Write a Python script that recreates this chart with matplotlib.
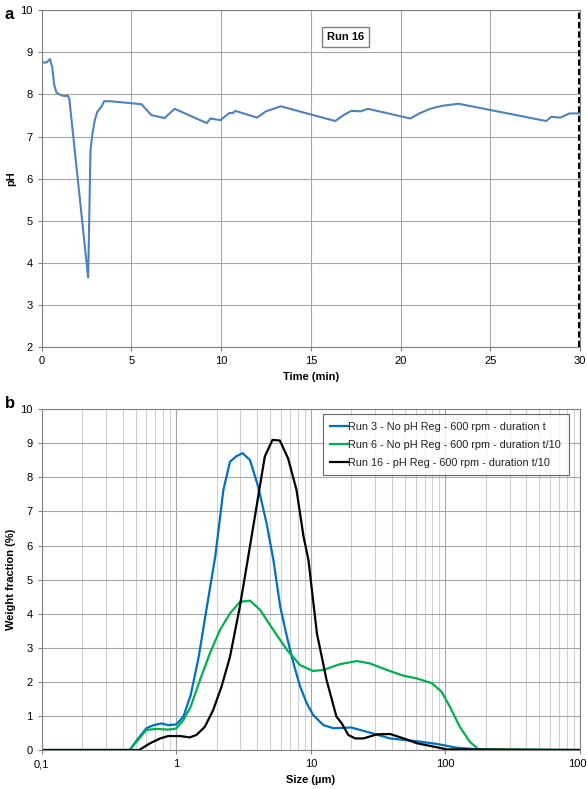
import matplotlib.pyplot as plt
import numpy as np

plt.rcParams['font.family'] = ['Liberation Sans', 'DejaVu Sans']

# panel a: pH vs time, Run 16
time_min = [0, 0.28, 0.46, 0.59, 0.70, 0.83, 1.11, 1.30, 1.44, 1.54, 2.59, 2.72, 2.83,
            2.96, 3.09, 3.24, 3.37, 3.48, 3.80, 5.56, 6.11, 6.85, 7.41, 9.20, 9.41, 9.96,
            10.46, 10.65, 10.8, 12.0, 12.5, 13.33, 14.35, 16.36, 16.82, 17.25, 17.79,
            18.18, 20.54, 21.1, 21.65, 22.3, 23.23, 28.12, 28.4, 28.9, 29.42, 29.93]
ph = [8.76, 8.76, 8.84, 8.65, 8.22, 8.04, 7.98, 7.96, 7.98, 7.90, 3.65, 6.67, 7.07,
      7.39, 7.58, 7.66, 7.74, 7.84, 7.84, 7.77, 7.51, 7.44, 7.66, 7.32, 7.43, 7.39,
      7.56, 7.56, 7.61, 7.45, 7.60, 7.72, 7.60, 7.37, 7.51, 7.61, 7.60,
      7.66, 7.43, 7.56, 7.66, 7.73, 7.78, 7.37, 7.47, 7.45, 7.55, 7.55]

# panel b: size distributions
size_run3 = [0.1, 0.45, 0.51, 0.60, 0.68, 0.78, 0.87, 1.0, 1.13, 1.28, 1.47, 1.69, 1.95,
             2.24, 2.51, 2.8, 3.11, 3.53, 4.06, 4.69, 5.27, 5.92, 6.64, 7.44, 8.33, 9.33,
             10.4, 12.4, 14.7, 20, 27.5, 38.8, 61, 86, 121, 171, 240, 1000]
wf_run3 = [0, 0, 0.29, 0.64, 0.73, 0.78, 0.73, 0.75, 0.98, 1.61, 2.74, 4.21, 5.68,
           7.63, 8.46, 8.62, 8.71, 8.51, 7.73, 6.65, 5.58, 4.21, 3.33, 2.54, 1.86, 1.37,
           1.03, 0.73, 0.64, 0.66, 0.51, 0.34, 0.26, 0.18, 0.07, 0.02, 0, 0]

size_run6 = [0.1, 0.45, 0.60, 0.71, 0.87, 1.0, 1.13, 1.28, 1.50, 1.78, 2.11, 2.51, 2.98,
             3.54, 4.2, 5.27, 6.64, 8.33, 10.4, 12.4, 16.5, 22, 27.5, 36.7, 48.8, 61.3,
             79.4, 93.7, 108, 128, 152, 176, 1000]
wf_run6 = [0, 0, 0.59, 0.62, 0.60, 0.63, 0.88, 1.27, 2.05, 2.84, 3.52, 4.01, 4.35,
           4.38, 4.11, 3.52, 2.94, 2.49, 2.32, 2.35, 2.52, 2.61, 2.54, 2.35, 2.18, 2.10,
           1.96, 1.71, 1.27, 0.68, 0.24, 0.02, 0]

size_run16 = [0.1, 0.53, 0.64, 0.76, 0.87, 1.07, 1.26, 1.41, 1.63, 1.88, 2.17, 2.51, 2.97,
              3.43, 3.95, 4.55, 5.19, 5.89, 6.77, 7.83, 8.83, 9.6, 11.1, 13.1, 15.5,
              17, 19, 21.4, 24.6, 31, 38.9, 48.9, 61.3, 81.8, 102, 1000]
wf_run16 = [0, 0, 0.20, 0.34, 0.41, 0.41, 0.37, 0.44, 0.68, 1.17, 1.86, 2.74, 4.21,
            5.68, 7.14, 8.61, 9.10, 9.08, 8.56, 7.63, 6.26, 5.58, 3.42, 2.05, 0.98,
            0.78, 0.44, 0.34, 0.34, 0.46, 0.47, 0.34, 0.20, 0.10, 0.02, 0]

labels = ['Run 3 - No pH Reg - 600 rpm - duration t',
          'Run 6 - No pH Reg - 600 rpm - duration t/10',
          'Run 16 - pH Reg - 600 rpm - duration t/10']

fig = plt.figure(figsize=(5.87, 7.89), dpi=100)
ax1 = fig.add_axes([0.071, 0.560, 0.917, 0.427])
ax2 = fig.add_axes([0.071, 0.0494, 0.917, 0.432])

# --- panel a ---
ax1.plot(time_min, ph, color='#4F81BD', lw=1.5)
ax1.axvline(29.95, color='black', ls='--', lw=1.5, dashes=(3, 1.5))
ax1.set_xlim(0, 30)
ax1.set_ylim(2, 10)
ax1.set_xticks(range(0, 31, 5))
ax1.set_yticks(range(2, 11))
ax1.grid(True, color='#a6a6a6', lw=0.8)
ax1.set_axisbelow(True)
ax1.set_xlabel('Time (min)', fontsize=8, fontweight='bold', labelpad=4)
ax1.set_ylabel('pH', fontsize=8, fontweight='bold')
ax1.yaxis.set_label_coords(-0.048, 0.5)
ax1.text(0.565, 0.92, 'Run 16', transform=ax1.transAxes, fontsize=8, fontweight='bold',
         ha='center', va='center',
         bbox=dict(boxstyle='square,pad=0.45', fc='white', ec='#7f7f7f', lw=1))

# --- panel b ---
ax2.plot(size_run3, wf_run3, color='#0070C0', lw=1.6, label=labels[0])
ax2.plot(size_run6, wf_run6, color='#00B050', lw=1.6, label=labels[1])
ax2.plot(size_run16, wf_run16, color='black', lw=1.6, label=labels[2])
ax2.set_xscale('log')
ax2.set_xlim(0.1, 1000)
ax2.set_ylim(0, 10)
ax2.set_yticks(range(0, 11))
ax2.set_xticks([0.1, 1, 10, 100, 1000])
ax2.set_xticklabels(['0,1', '1', '10', '100', '1000'])
ax2.grid(True, which='major', color='#a6a6a6', lw=0.8)
ax2.grid(True, which='minor', axis='x', color='#d0d0d0', lw=0.8)
ax2.set_axisbelow(True)
ax2.set_xlabel('Size (µm)', fontsize=8, fontweight='bold', labelpad=4)
ax2.set_ylabel('Weight fraction (%)', fontsize=8, fontweight='bold')
ax2.yaxis.set_label_coords(-0.048, 0.5)
leg = ax2.legend(loc='upper right', bbox_to_anchor=(0.983, 0.992), fontsize=7.8,
                 fancybox=False, edgecolor='#404040', handlelength=1.6,
                 handletextpad=0.05, borderpad=0.7, labelspacing=0.75,
                 borderaxespad=0.2)
leg.get_frame().set_linewidth(0.8)
for t in leg.get_texts():
    t.set_color('#222222')

for ax in (ax1, ax2):
    ax.tick_params(labelsize=8, length=3, color='#808080')
    ax.tick_params(which='minor', length=0)
    for s in ax.spines.values():
        s.set_color('#808080')

fig.text(0.008, 0.982, 'a', fontsize=12, fontweight='bold', va='center')
fig.text(0.008, 0.489, 'b', fontsize=12, fontweight='bold', va='center')

fig.savefig('out.png', dpi=100)
